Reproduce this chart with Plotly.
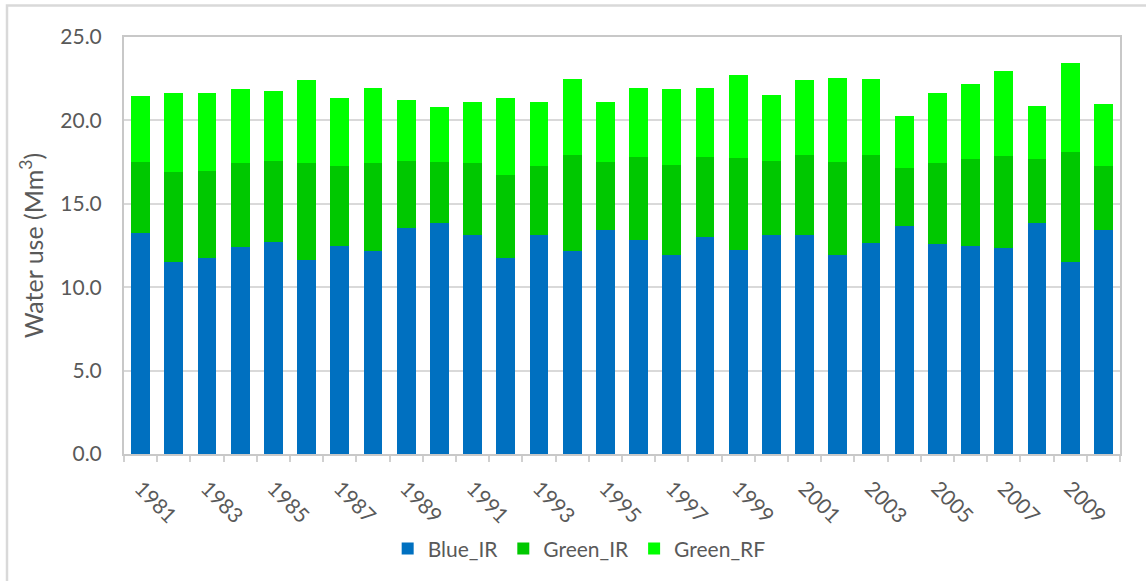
import plotly.graph_objects as go

# Annual water use components, 1981-2010 (Mm3)
years = list(range(1981, 2011))
blue_ir = [13.26, 11.50, 11.74, 12.41, 12.70, 11.66, 12.49, 12.19, 13.53, 13.87,
           13.10, 11.74, 13.10, 12.19, 13.41, 12.86, 11.95, 13.02, 12.25, 13.10,
           13.10, 11.95, 12.64, 13.69, 12.57, 12.49, 12.33, 13.86, 11.54, 13.45]
green_ir = [4.24, 5.41, 5.22, 5.01, 4.88, 5.76, 4.77, 5.23, 4.05, 3.63,
            4.32, 5.01, 4.16, 5.76, 4.09, 4.93, 5.39, 4.77, 5.48, 4.48,
            4.85, 5.55, 5.31, 3.43, 4.85, 5.17, 5.54, 3.80, 6.55, 3.81]
green_rf = [3.98, 4.75, 4.70, 4.46, 4.16, 4.99, 4.08, 4.53, 3.63, 3.31,
            3.70, 4.59, 3.86, 4.54, 3.62, 4.14, 4.54, 4.14, 4.99, 3.92,
            4.46, 5.07, 4.54, 3.16, 4.24, 4.53, 5.07, 3.23, 5.38, 3.71]

label_years = years[::2]
y_ticks = [0, 5, 10, 15, 20, 25]

FONT = "Lato, 'Open Sans', sans-serif"
TXT = "#595959"
GRID = "#d9d9d9"

fig = go.Figure()
for name, vals, col in [("Blue_IR", blue_ir, "#0070C0"),
                        ("Green_IR", green_ir, "#00C800"),
                        ("Green_RF", green_rf, "#00FF00")]:
    fig.add_trace(go.Bar(x=years, y=vals, name=name,
                         marker=dict(color=col, line=dict(width=0))))

W, H = 1146, 581
ml, mr, mt, mb = 124, 26, 37, 122
pw, ph = W - ml - mr, H - mt - mb

# outer chart frame (only the top and left edges fall inside the view)
fx0 = (7 - ml) / pw
fy1 = 1 + (mt - 5) / ph
fig.add_shape(type="rect", xref="paper", yref="paper",
              x0=fx0, x1=1.2, y0=-0.5, y1=fy1,
              line=dict(color="#d9d9d9", width=2.5), layer="below")

fig.update_layout(
    width=W, height=H,
    margin=dict(l=ml, r=mr, t=mt, b=mb),
    barmode="stack",
    bargap=0.43,
    plot_bgcolor="white",
    paper_bgcolor="white",
    font=dict(family=FONT, color=TXT, size=21),
    showlegend=True,
    legend=dict(orientation="h", x=0.457, xanchor="center",
                y=(459 - 555) / ph, yanchor="middle",
                font=dict(size=21, color=TXT), traceorder="normal",
                itemwidth=30, tracegroupgap=0),
)

fig.update_xaxes(
    range=[years[0] - 0.5, years[-1] + 0.5],
    tickmode="array",
    tickvals=label_years,
    ticktext=[str(y) for y in label_years],
    tickangle=45,
    ticks="outside", ticklen=0,
    ticklabelstandoff=12,
    tickfont=dict(size=21, color=TXT),
    showgrid=False,
    showline=True, linecolor="#c8c8c8", linewidth=2, mirror=True,
    minor=dict(tickmode="array",
               tickvals=[y - 0.5 for y in years] + [years[-1] + 0.5],
               ticks="outside", ticklen=6, tickcolor="#d0d0d0",
               tickwidth=2, showgrid=False),
    zeroline=False,
)

fig.update_yaxes(
    range=[0, 25],
    tickmode="array",
    tickvals=y_ticks,
    ticktext=[f"{v:.1f}" for v in y_ticks],
    tickfont=dict(size=21, color=TXT),
    ticklabelstandoff=16,
    showgrid=True, gridcolor=GRID, gridwidth=2,
    showline=True, linecolor="#c8c8c8", linewidth=2, mirror=True,
    zeroline=False,
    title=dict(text="Water use (Mm<sup>3</sup>)",
               font=dict(size=25, color=TXT), standoff=10),
)

fig.write_html("out.html")
